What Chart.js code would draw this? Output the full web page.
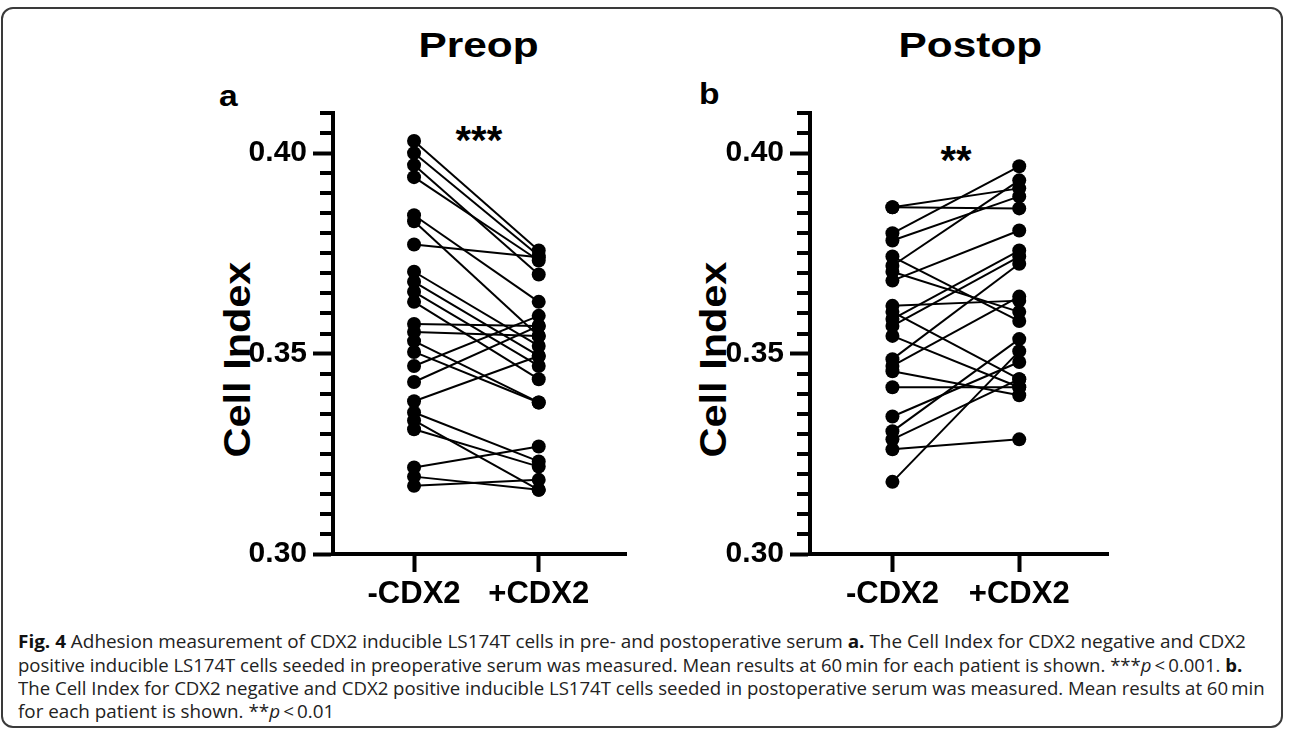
<!DOCTYPE html>
<html>
<head>
<meta charset="utf-8">
<script src="https://cdn.jsdelivr.net/npm/chart.js@4.4.1/dist/chart.umd.min.js"></script>
<style>
  html,body{margin:0;padding:0;background:#fff;}
  body{width:1292px;height:732px;position:relative;overflow:hidden;font-family:'Liberation Sans',Arial,sans-serif;}
  #frame{position:absolute;left:1px;top:7px;width:1282px;height:721px;border:2px solid #3a3a3a;border-radius:12px;box-sizing:border-box;}
  .t{position:absolute;font-weight:bold;line-height:1;white-space:nowrap;color:#000;transform-origin:center center;}
  canvas{position:absolute;}
  .cap{position:absolute;left:18px;font-family:'Open Sans','Noto Sans',sans-serif;font-size:18px;line-height:24px;color:#222;white-space:nowrap;transform-origin:left center;}
  .cap b{font-weight:700;color:#111;}
</style>
</head>
<body>
<div id="frame"></div>

<div class="t" id="titleA" style="font-size:35px;">Preop</div>
<div class="t" id="titleB" style="font-size:35px;">Postop</div>
<div class="t" style="font-size:30px;left:219px;top:81px;transform:scaleX(1.12);transform-origin:left center;">a</div>
<div class="t" style="font-size:30px;left:699px;top:79px;transform:scaleX(1.12);transform-origin:left center;">b</div>
<div class="t" id="starsA" style="font-size:40px;">***</div>
<div class="t" id="starsB" style="font-size:40px;">**</div>
<div class="t" id="ylabA" style="font-size:37px;">Cell Index</div>
<div class="t" id="ylabB" style="font-size:37px;">Cell Index</div>

<canvas id="ca" width="460" height="620" style="left:180px;top:0px;width:460px;height:620px;"></canvas>
<canvas id="cb" width="460" height="620" style="left:657px;top:0px;width:460px;height:620px;"></canvas>

<div class="cap" id="l1" style="top:629px;"><b>Fig. 4</b> Adhesion measurement of CDX2 inducible LS174T cells in pre- and postoperative serum <b>a.</b> The Cell Index for CDX2 negative and CDX2</div>
<div class="cap" id="l2" style="top:653px;">positive inducible LS174T cells seeded in preoperative serum was measured. Mean results at 60&#8201;min for each patient is shown. ***<i>p</i>&#8201;&lt;&#8201;0.001. <b>b.</b></div>
<div class="cap" id="l3" style="top:676px;">The Cell Index for CDX2 negative and CDX2 positive inducible LS174T cells seeded in postoperative serum was measured. Mean results at 60&#8201;min</div>
<div class="cap" id="l4" style="top:699px;">for each patient is shown. **<i>p</i>&#8201;&lt;&#8201;0.01</div>

<script>
// ---------- data ----------
const categories = ['-CDX2', '+CDX2'];
const yTickValues = [0.30, 0.35, 0.40];
const yMinorTickValues = [0.305,0.31,0.315,0.32,0.325,0.33,0.335,0.34,0.345,0.355,0.36,0.365,0.37,0.375,0.38,0.385,0.39,0.395,0.405,0.41];

// Panel a: Preop (each index = one patient)
const preopMinus = [0.4030,0.4000,0.3970,0.3940,0.3845,0.3830,0.3772,0.3704,0.3679,0.3654,0.3629,0.3574,0.3554,0.3531,0.3504,0.3469,0.3429,0.3381,0.3353,0.3333,0.3311,0.3216,0.3193,0.3170];
const preopPlus  = [0.3757,0.3744,0.3697,0.3732,0.3629,0.3544,0.3740,0.3519,0.3494,0.3469,0.3436,0.3569,0.3544,0.3378,0.3378,0.3594,0.3569,0.3494,0.3231,0.3160,0.3218,0.3268,0.3160,0.3185];

// Panel b: Postop
const postopMinus = [0.3865,0.3865,0.3800,0.3782,0.3742,0.3719,0.3704,0.3682,0.3619,0.3604,0.3586,0.3569,0.3544,0.3486,0.3469,0.3456,0.3416,0.3343,0.3306,0.3261,0.3180,0.3286];
const postopPlus  = [0.3862,0.3912,0.3967,0.3892,0.3581,0.3932,0.3604,0.3807,0.3632,0.3436,0.3757,0.3742,0.3416,0.3724,0.3642,0.3396,0.3416,0.3479,0.3536,0.3286,0.3506,0.3436];

// ---------- chart ----------
Chart.defaults.font.family = "'Liberation Sans', Arial, sans-serif";
Chart.defaults.color = '#000';

const minorTicks = {
  id: 'minorTicks',
  afterDraw(chart) {
    const s = chart.scales.y, ctx = chart.ctx;
    ctx.save();
    ctx.strokeStyle = '#000';
    ctx.lineWidth = 4;
    for (const v of yMinorTickValues) {
      const y = Math.round(s.getPixelForValue(v));
      ctx.beginPath();
      ctx.moveTo(s.right - 13, y);
      ctx.lineTo(s.right, y);
      ctx.stroke();
    }
    ctx.restore();
  }
};

function makeDatasets(minus, plus) {
  return minus.map((m, i) => ({
    data: [{x: 1, y: m}, {x: 2, y: plus[i]}],
    borderColor: '#000',
    backgroundColor: '#000',
    pointBorderColor: '#000',
    pointBackgroundColor: '#000',
    borderWidth: 2,
    pointRadius: 7,
    pointHoverRadius: 7,
    pointBorderWidth: 0,
    clip: false,
    tension: 0
  }));
}

function makeChart(id, minus, plus, padRight) {
  return new Chart(document.getElementById(id), {
    type: 'line',
    data: { datasets: makeDatasets(minus, plus) },
    options: {
      responsive: false,
      animation: false,
      events: [],
      layout: { padding: { top: 113, right: padRight, left: 0, bottom: 0 } },
      plugins: { legend: { display: false }, tooltip: { enabled: false }, title: { display: false } },
      scales: {
        x: {
          type: 'linear',
          min: 0.35, max: 2.7,
          afterBuildTicks: (s) => { s.ticks = [{value: 1}, {value: 2}]; },
          afterFit: (s) => { s.height = 66; },
          border: { display: true, width: 4, color: '#000' },
          grid: { drawOnChartArea: false, tickLength: 18, tickWidth: 4, tickColor: '#000' },
          ticks: {
            padding: 4,
            font: { size: 31, weight: 'bold' },
            color: '#000',
            callback: (v) => categories[v - 1] ?? ''
          }
        },
        y: {
          type: 'linear',
          min: 0.30, max: 0.41,
          afterBuildTicks: (s) => { s.ticks = yTickValues.map(v => ({value: v})); },
          afterFit: (s) => { s.width = 153; },
          border: { display: true, width: 4, color: '#000' },
          grid: { drawOnChartArea: false, tickLength: 20, tickWidth: 4, tickColor: '#000' },
          ticks: {
            padding: 6,
            font: { size: 30, weight: 'bold' },
            color: '#000',
            callback: (v) => Number(v).toFixed(2)
          }
        }
      }
    },
    plugins: [minorTicks]
  });
}

makeChart('ca', preopMinus, preopPlus, 14);
makeChart('cb', postopMinus, postopPlus, 9);

// ---------- place text ----------
function place(id, cx, top, sx) {
  const el = document.getElementById(id);
  const w = el.offsetWidth;
  el.style.left = (cx - w / 2) + 'px';
  el.style.top = top + 'px';
  el.style.transform = 'scaleX(' + sx + ')';
}
place('titleA', 478, 27, 1.21);
place('titleB', 970, 27, 1.21);
place('starsA', 479, 120, 1.0);
place('starsB', 956, 140, 1.0);

function placeRot(id, cx, cy, s) {
  const el = document.getElementById(id);
  const w = el.offsetWidth, h = el.offsetHeight;
  el.style.left = (cx - w / 2) + 'px';
  el.style.top = (cy - h / 2) + 'px';
  el.style.transform = 'rotate(-90deg) scaleX(' + s + ')';
}
placeRot('ylabA', 237, 359, 1.12);
placeRot('ylabB', 713, 359, 1.12);

function fitCap(id, target) {
  const el = document.getElementById(id);
  const w = el.scrollWidth;
  el.style.transform = 'scaleX(' + (target / w) + ')';
}
fitCap('l1', 1228);
fitCap('l2', 1224);
fitCap('l3', 1247);
fitCap('l4', 316);
</script>
</body>
</html>
